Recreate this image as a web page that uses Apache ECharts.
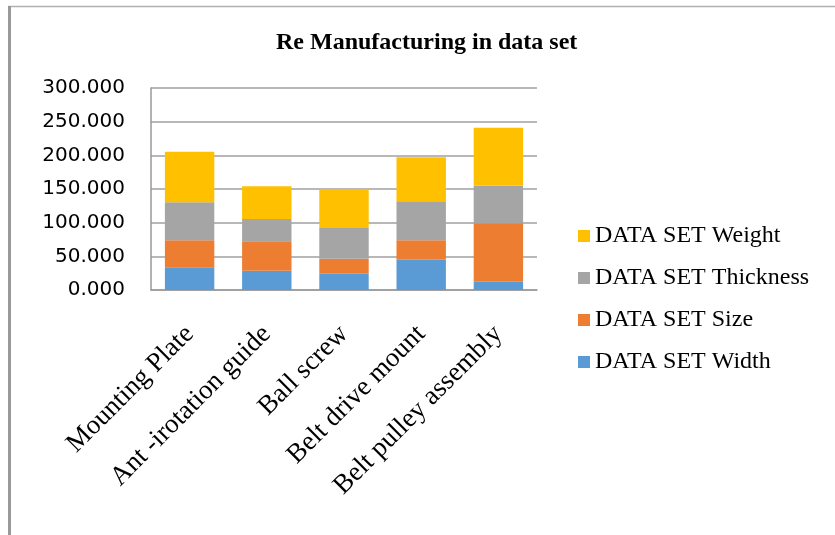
<!DOCTYPE html>
<html>
<head>
<meta charset="utf-8">
<script src="https://cdn.jsdelivr.net/npm/echarts@6/dist/echarts.min.js"></script>
<style>
  html, body { margin: 0; padding: 0; background: #fff; }
  #chart { width: 835px; height: 535px; }
</style>
</head>
<body>
<div id="chart"></div>
<script>
// Parts and their data-set measurements (stacked per part)
const categories = ['Mounting Plate', 'Ant -irotation guide', 'Ball screw', 'Belt drive mount', 'Belt pulley assembly'];
const widthValues     = [33.7, 28.7, 24.3, 45.0, 12.4];
const sizeValues      = [40.1, 43.6, 22.2, 28.8, 86.6];
const thicknessValues = [56.4, 33.1, 45.6, 57.9, 55.9];
const weightValues    = [75.2, 48.6, 57.4, 65.3, 86.2];
const yTicks = { min: 0, max: 300, step: 50 };

const seriesDefs = [
  { name: 'DATA SET Width', data: widthValues, color: '#5B9BD5' },
  { name: 'DATA SET Size', data: sizeValues, color: '#ED7D31' },
  { name: 'DATA SET Thickness', data: thicknessValues, color: '#A5A5A5' },
  { name: 'DATA SET Weight', data: weightValues, color: '#FFC000' }
];

const chart = echarts.init(document.getElementById('chart'), null, { renderer: 'canvas' });

chart.setOption({
  backgroundColor: '#fff',
  animation: false,
  title: {
    text: 'Re Manufacturing in data set',
    left: 276,
    top: 31,
    padding: 0,
    textStyle: { fontFamily: 'Liberation Serif', fontWeight: 'bold', fontSize: 24, color: '#000' }
  },
  graphic: [
    { type: 'line', shape: { x1: 8, y1: 6.5, x2: 835, y2: 6.5 }, style: { stroke: '#b0b0b0', lineWidth: 1.5 } },
    { type: 'line', shape: { x1: 9.5, y1: 6, x2: 9.5, y2: 535 }, style: { stroke: '#999', lineWidth: 3 } }
  ],
  legend: {
    orient: 'vertical',
    left: 573,
    top: 219,
    itemWidth: 12,
    itemHeight: 12,
    itemGap: 18,
    icon: 'rect',
    data: ['DATA SET Weight', 'DATA SET Thickness', 'DATA SET Size', 'DATA SET Width'],
    textStyle: { fontFamily: 'Liberation Serif', fontSize: 24, color: '#000', lineHeight: 24 }
  },
  grid: { left: 151, right: 298, top: 88, bottom: 245 },
  xAxis: {
    type: 'category',
    data: categories,
    axisLine: { lineStyle: { color: '#999', width: 1.5 } },
    axisTick: { show: false },
    axisLabel: {
      rotate: 45,
      interval: 0,
      margin: 40,
      fontFamily: 'Liberation Serif',
      fontSize: 27,
      color: '#000'
    }
  },
  yAxis: {
    type: 'value',
    min: yTicks.min,
    max: yTicks.max,
    interval: yTicks.step,
    axisLine: { show: true, lineStyle: { color: '#999', width: 1.5 } },
    axisTick: { show: false },
    splitLine: { lineStyle: { color: '#a0a0a0', width: 1.5 } },
    axisLabel: {
      margin: 26,
      fontFamily: 'DejaVu Sans',
      fontSize: 20,
      color: '#000',
      formatter: v => v.toFixed(3)
    }
  },
  series: seriesDefs.map(s => ({
    name: s.name,
    type: 'bar',
    stack: 'total',
    data: s.data,
    barWidth: '64%',
    itemStyle: { color: s.color },
    emphasis: { disabled: true }
  }))
});
</script>
</body>
</html>
